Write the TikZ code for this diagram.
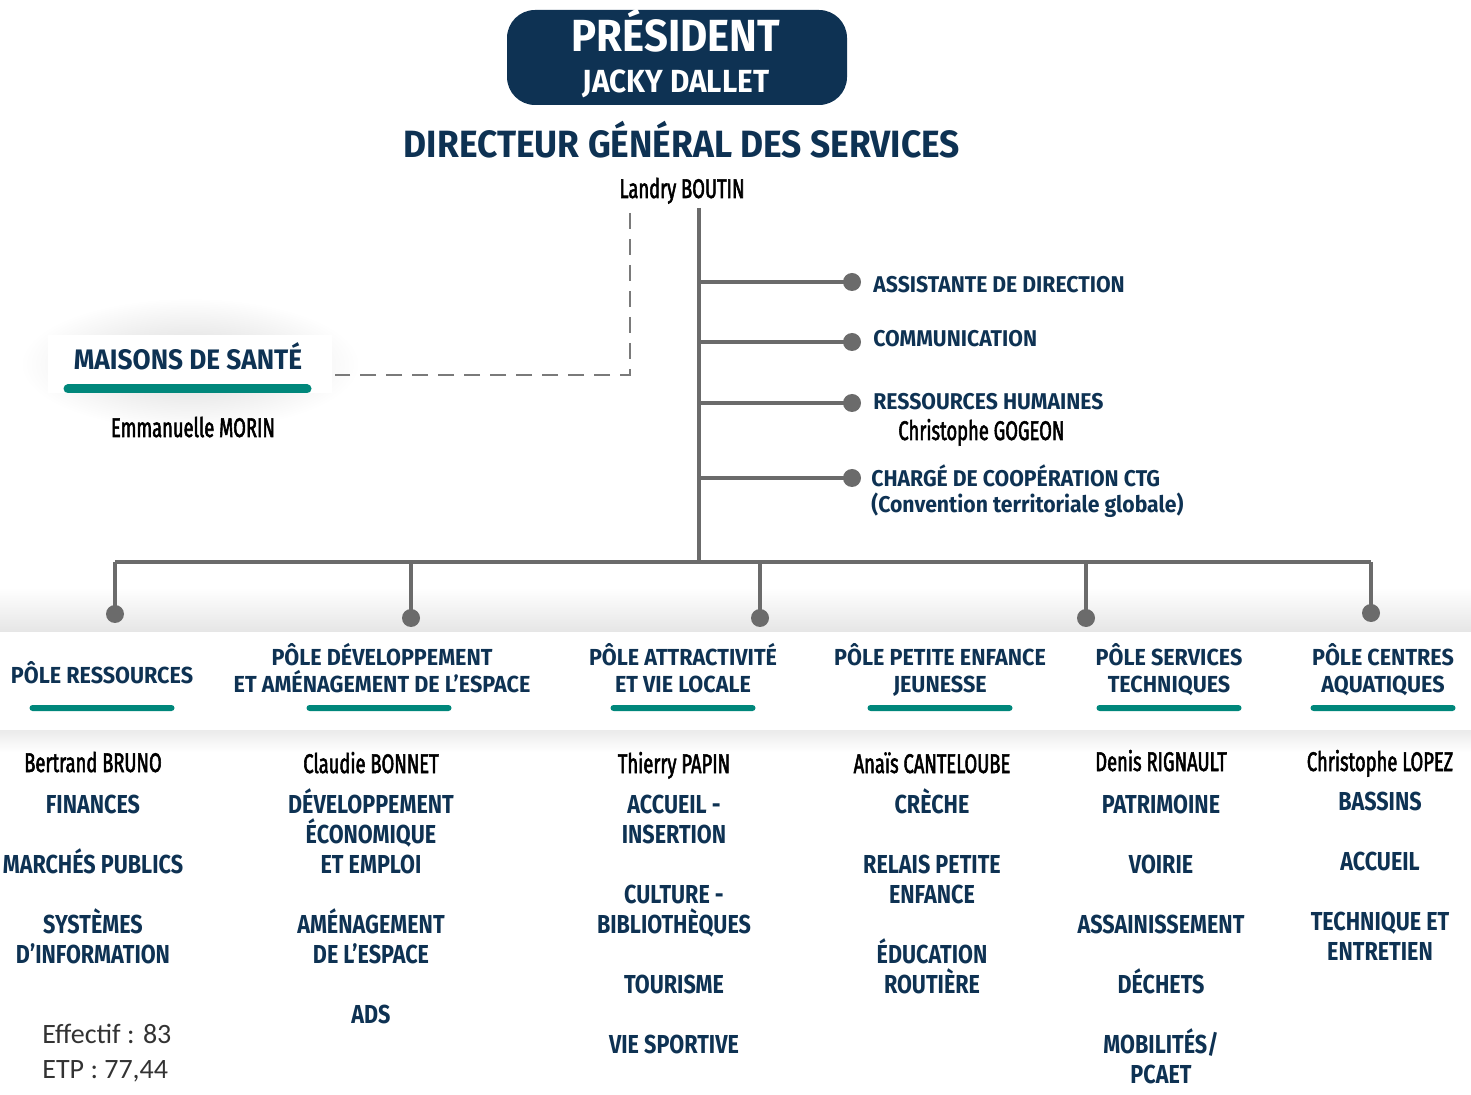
\documentclass[tikz,border=0pt]{standalone}
\usepackage{fontspec}
\setmainfont{Fira Sans}
\newfontfamily\headfont{Fira Sans}[FakeStretch=0.93]
\newfontfamily\condfont{Fira Sans}[FakeStretch=0.83]
\newfontfamily\namefont{Fira Sans}[FakeStretch=0.68,FakeBold=2]
\newfontfamily\countfont{Carlito}
\definecolor{ctnavy}{HTML}{0E3253}
\definecolor{ctteal}{HTML}{00877B}
\definecolor{ctgray}{HTML}{6B6B6B}
\begin{document}
\begin{tikzpicture}[x=0.5pt,y=-0.5pt,
    link/.style={ctgray, line width=2pt},
    dashline/.style={ctgray!90, line width=1pt, dash pattern=on 8pt off 5pt},
    dot/.style={circle, fill=ctgray, inner sep=0pt, minimum size=9pt},
    bar/.style={fill=ctteal, rounded corners=1.5pt, inner sep=0pt, minimum width=72.5pt, minimum height=3pt},
    side/.style={anchor=base west, inner sep=0pt, text=ctnavy, font=\headfont\bfseries\fontsize{11.4}{13}\selectfont},
    pole/.style={anchor=base, inner sep=0pt, align=center, text=ctnavy, font=\headfont\bfseries\fontsize{11.6}{13.5}\selectfont},
    who/.style={anchor=base, inner sep=0pt, text=black, font=\namefont\fontsize{13.5}{15}\selectfont},
    item/.style={anchor=base, inner sep=0pt, align=center, text=ctnavy, font=\condfont\bfseries\fontsize{13}{15}\selectfont}]
\useasboundingbox (0,0) rectangle (1471,1095);
% shadows round the pole band and the maisons box
\shade[top color=white, bottom color=black!10] (0,588) rectangle (1471,632);
\shade[top color=black!8, bottom color=white] (0,730) rectangle (1471,752);
\shade[inner color=black!15, outer color=white] (190,364) ellipse (170 and 66);
\fill[white] (48,335) rectangle (332,393);
% president
\node[fill=ctnavy, rounded corners=14pt, minimum width=170pt, minimum height=47.5pt] (pres) at (677,57.5) {};
\node[anchor=base, text=white, font=\headfont\bfseries\fontsize{22.5}{24}\selectfont] (prestitle) at (676,52) {PRÉSIDENT};
\node[anchor=base, text=white, font=\headfont\bfseries\fontsize{16}{18}\selectfont] (presname) at (676,93) {JACKY DALLET};
% direction
\node[anchor=base, text=ctnavy, font=\headfont\bfseries\fontsize{19}{21}\selectfont] (dgs) at (682,158) {DIRECTEUR GÉNÉRAL DES SERVICES};
\node[who] (dgsname) at (682,198) {Landry BOUTIN};
\coordinate (trunktop) at (699,208);
\coordinate (trunkbot) at (699,562);
\draw[link] (trunktop) -- (trunkbot);
% maisons de sante
\node[anchor=base, text=ctnavy, font=\headfont\bfseries\fontsize{14.1}{16}\selectfont] (maisons) at (188,370) {MAISONS DE SANTÉ};
\draw[ctteal, line width=4.5pt, line cap=round] (68,389) -- (307,389);
\node[who] (maisonsname) at (193,437) {Emmanuelle MORIN};
\coordinate (dashtop) at (630,213);
\coordinate (dashend) at (335,375);
\draw[dashline] (dashtop) |- (dashend);
% services rattaches
\foreach \n/\y in {s1/282,s2/342,s3/403,s4/478}{
  \node[dot] (\n) at (852,\y) {};
  \draw[link] (\n -| trunktop) -- (\n.center);
}
\node[side] (assist) at (873,293) {ASSISTANTE DE DIRECTION};
\node[side] (comm) at (873,347) {COMMUNICATION};
\node[side] (rh) at (873,410) {RESSOURCES HUMAINES};
\node[who, anchor=base west] (rhname) at (898,440) {Christophe GOGEON};
\node[side] (ctg) at (871,487) {CHARGÉ DE COOPÉRATION CTG};
\node[side] (ctgsub) at (871,513) {(Convention territoriale globale)};
% poles
\coordinate (busL) at (115,562);
\coordinate (busR) at (1371,562);
\draw[link] (busL) -- (busR);
\foreach \n/\x/\y in {d1/115/614,d2/411/618,d3/760/618,d4/1086/618,d5/1371/613}{
  \node[dot] (\n) at (\x,\y) {};
  \draw[link] (\n |- busL) -- (\n.center);
}
\node[pole] (pole1) at (102,683) {PÔLE RESSOURCES};
\node[pole] (pole2) at (382,692) {PÔLE DÉVELOPPEMENT\\ET AMÉNAGEMENT DE L’ESPACE};
\node[pole] (pole3) at (683,692) {PÔLE ATTRACTIVITÉ\\ET VIE LOCALE};
\node[pole] (pole4) at (940,692) {PÔLE PETITE ENFANCE\\JEUNESSE};
\node[pole] (pole5) at (1169,692) {PÔLE SERVICES\\TECHNIQUES};
\node[pole] (pole6) at (1383,692) {PÔLE CENTRES\\AQUATIQUES};
\foreach \n/\x in {b1/102,b2/379,b3/683,b4/940,b5/1169,b6/1383}
  \node[bar] (\n) at (\x,708) {};
% chefs de pole
\node[who] (chef1) at (93,772) {Bertrand BRUNO};
\node[who] (chef2) at (371,773) {Claudie BONNET};
\node[who] (chef3) at (674,773) {Thierry PAPIN};
\node[who] (chef4) at (932,773) {Anaïs CANTELOUBE};
\node[who] (chef5) at (1161,771) {Denis RIGNAULT};
\node[who] (chef6) at (1380,771) {Christophe LOPEZ};
% services des poles (y = last line)
\node[item] (fin) at (93,813) {FINANCES};
\node[item] (mp) at (93,873) {MARCHÉS PUBLICS};
\node[item] (si) at (93,963) {SYSTÈMES\\D’INFORMATION};
\node[item] (dev) at (371,873) {DÉVELOPPEMENT\\ÉCONOMIQUE\\ET EMPLOI};
\node[item] (amen) at (371,963) {AMÉNAGEMENT\\DE L’ESPACE};
\node[item] (ads) at (371,1023) {ADS};
\node[item] (accins) at (674,843) {ACCUEIL -\\INSERTION};
\node[item] (cult) at (674,933) {CULTURE -\\BIBLIOTHÈQUES};
\node[item] (tour) at (674,993) {TOURISME};
\node[item] (sport) at (674,1053) {VIE SPORTIVE};
\node[item] (creche) at (932,813) {CRÈCHE};
\node[item] (rpe) at (932,903) {RELAIS PETITE\\ENFANCE};
\node[item] (edu) at (932,993) {ÉDUCATION\\ROUTIÈRE};
\node[item] (patri) at (1161,813) {PATRIMOINE};
\node[item] (voirie) at (1161,873) {VOIRIE};
\node[item] (assain) at (1161,933) {ASSAINISSEMENT};
\node[item] (dechets) at (1161,993) {DÉCHETS};
\node[item] (mobi) at (1161,1083) {MOBILITÉS/\\PCAET};
\node[item] (bassins) at (1380,810) {BASSINS};
\node[item] (accueil) at (1380,870) {ACCUEIL};
\node[item] (tech) at (1380,960) {TECHNIQUE ET\\ENTRETIEN};
% effectifs
\node[anchor=base west, inner sep=0pt, text=black!80, font=\countfont\fontsize{14}{16}\selectfont] (eff) at (42,1043) {Effectif : 83};
\node[anchor=base west, inner sep=0pt, text=black!80, font=\countfont\fontsize{14}{16}\selectfont] (etp) at (42,1078) {ETP : 77,44};
\end{tikzpicture}
\end{document}
